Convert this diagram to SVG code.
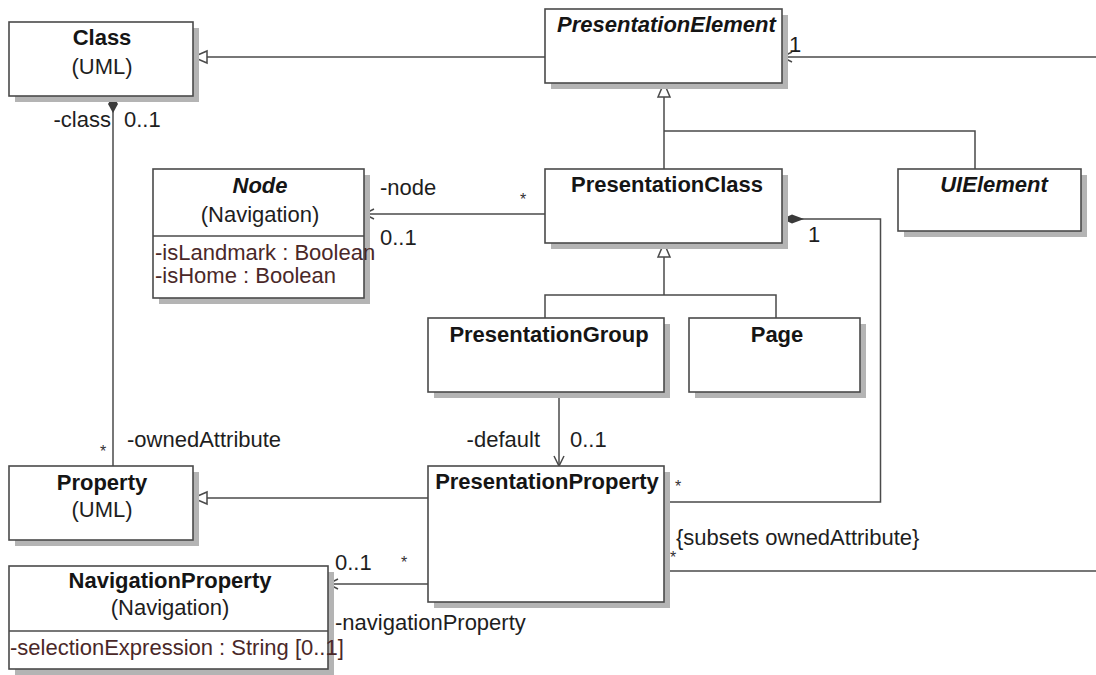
<svg xmlns="http://www.w3.org/2000/svg" width="1096" height="675" viewBox="0 0 1096 675">
<style>
.box{fill:#fff;stroke:#4a4a4a;stroke-width:1.6}
.shadow{fill:#b4b4b4}
.sep{stroke:#4a4a4a;stroke-width:1.4}
.t{font-family:"Liberation Sans",Arial,sans-serif;font-size:22px;fill:#1e1e1e}
.b{font-weight:bold;fill:#151515}
.bi{font-weight:bold;font-style:italic;fill:#151515}
.attr{fill:#4a2828}
.star{font-family:"Liberation Sans",Arial,sans-serif;font-size:16px;fill:#333}
.c{fill:none;stroke:#4a4a4a;stroke-width:1.5}
</style>
<defs>
<marker id="gen" markerUnits="userSpaceOnUse" markerWidth="16" markerHeight="14" viewBox="0 0 16 14" refX="15" refY="7" orient="auto" overflow="visible">
<path d="M1,1 L15,7 L1,13 Z" fill="#fff" stroke="#4a4a4a" stroke-width="1.5"/>
</marker>
<marker id="open" markerUnits="userSpaceOnUse" markerWidth="12" markerHeight="12" viewBox="0 0 12 12" refX="11" refY="6" orient="auto" overflow="visible">
<path d="M1,1 L11,6 L1,11" fill="none" stroke="#4a4a4a" stroke-width="1.5"/>
</marker>
<marker id="dia1" markerUnits="userSpaceOnUse" markerWidth="18" markerHeight="12" viewBox="0 0 18 12" refX="0" refY="6" orient="auto" overflow="visible">
<path d="M0,6 L8,1 L17,6 L8,11 Z" fill="#3a3a3a"/>
</marker>
<marker id="dia2" markerUnits="userSpaceOnUse" markerWidth="24" markerHeight="12" viewBox="0 0 24 12" refX="0" refY="6" orient="auto" overflow="visible">
<path d="M0,6 L10,1.5 L22,6 L10,10.5 Z" fill="#3a3a3a"/>
</marker>
</defs>
<rect width="1096" height="675" fill="#fff"/>

<g id="connectors">
<line class="c" x1="545" y1="57" x2="193" y2="57" marker-end="url(#gen)"/>
<line class="c" x1="1096" y1="57" x2="782" y2="57" marker-end="url(#open)"/>
<line class="c" x1="664" y1="169" x2="664" y2="83" marker-end="url(#gen)"/>
<polyline class="c" points="664,131 975,131 975,169"/>
<line class="c" x1="545" y1="214" x2="364" y2="214" marker-end="url(#open)"/>
<line class="c" x1="664" y1="295" x2="664" y2="243" marker-end="url(#gen)"/>
<polyline class="c" points="545,318 545,295 776,295 776,318"/>
<polyline class="c" points="782,219 880.5,219 880.5,502 664,502" marker-start="url(#dia2)"/>
<line class="c" x1="559" y1="392" x2="559" y2="466" marker-end="url(#open)"/>
<line class="c" x1="428" y1="498" x2="193" y2="498" marker-end="url(#gen)"/>
<line class="c" x1="113" y1="96" x2="113" y2="466" marker-start="url(#dia1)"/>
<line class="c" x1="428" y1="584" x2="328" y2="584" marker-end="url(#open)"/>
<line class="c" x1="664" y1="571" x2="1096" y2="571"/>

<text class="t" x="789" y="52">1</text>
<text class="t" x="380" y="195">-node</text>
<text class="star" x="523" y="205" text-anchor="middle">*</text>
<text class="t" x="380" y="245">0..1</text>
<text class="t" x="808" y="242">1</text>
<text class="star" x="678" y="492" text-anchor="middle">*</text>
<text class="t" x="540" y="447" text-anchor="end">-default</text>
<text class="t" x="570" y="447">0..1</text>
<text class="t" x="111" y="127" text-anchor="end">-class</text>
<text class="t" x="124" y="127">0..1</text>
<text class="star" x="103" y="457" text-anchor="middle">*</text>
<text class="t" x="127" y="447">-ownedAttribute</text>
<text class="t" x="335" y="570">0..1</text>
<text class="star" x="404" y="568" text-anchor="middle">*</text>
<text class="t" x="335" y="630">-navigationProperty</text>
<text class="star" x="673" y="563" text-anchor="middle">*</text>
<text class="t" x="676" y="545">{subsets ownedAttribute}</text>
</g>

<g id="Class">
<rect class="shadow" x="15" y="28" width="184" height="74"/>
<rect class="box" x="9" y="22" width="184" height="74"/>
<text class="t b" x="102" y="45" text-anchor="middle">Class</text>
<text class="t" x="102" y="74" text-anchor="middle">(UML)</text>
</g>

<g id="PresentationElement">
<rect class="shadow" x="551" y="15" width="237" height="74"/>
<rect class="box" x="545" y="9" width="237" height="74"/>
<text class="t bi" x="557" y="32">PresentationElement</text>
</g>

<g id="Node">
<rect class="shadow" x="159" y="175" width="211" height="129"/>
<rect class="box" x="153" y="169" width="211" height="129"/>
<line class="sep" x1="153" y1="236" x2="364" y2="236"/>
<text class="t bi" x="260" y="193" text-anchor="middle">Node</text>
<text class="t" x="260" y="222" text-anchor="middle">(Navigation)</text>
<text class="t attr" x="155" y="260">-isLandmark : Boolean</text>
<text class="t attr" x="155" y="283">-isHome : Boolean</text>
</g>

<g id="PresentationClass">
<rect class="shadow" x="551" y="175" width="237" height="74"/>
<rect class="box" x="545" y="169" width="237" height="74"/>
<text class="t b" x="667" y="192" text-anchor="middle">PresentationClass</text>
</g>

<g id="UIElement">
<rect class="shadow" x="904" y="175" width="183" height="62"/>
<rect class="box" x="898" y="169" width="183" height="62"/>
<text class="t bi" x="994" y="192" text-anchor="middle">UIElement</text>
</g>

<g id="PresentationGroup">
<rect class="shadow" x="434" y="324" width="236" height="74"/>
<rect class="box" x="428" y="318" width="236" height="74"/>
<text class="t b" x="549" y="342" text-anchor="middle">PresentationGroup</text>
</g>

<g id="Page">
<rect class="shadow" x="695" y="324" width="171" height="74"/>
<rect class="box" x="689" y="318" width="171" height="74"/>
<text class="t b" x="777" y="342" text-anchor="middle">Page</text>
</g>

<g id="Property">
<rect class="shadow" x="15" y="472" width="184" height="74"/>
<rect class="box" x="9" y="466" width="184" height="74"/>
<text class="t b" x="102" y="490" text-anchor="middle">Property</text>
<text class="t" x="102" y="517" text-anchor="middle">(UML)</text>
</g>

<g id="PresentationProperty">
<rect class="shadow" x="434" y="472" width="236" height="136"/>
<rect class="box" x="428" y="466" width="236" height="136"/>
<text class="t b" x="547" y="489" text-anchor="middle">PresentationProperty</text>
</g>

<g id="NavigationProperty">
<rect class="shadow" x="15" y="572" width="319" height="103"/>
<rect class="box" x="9" y="566" width="319" height="103"/>
<line class="sep" x1="9" y1="631" x2="328" y2="631"/>
<text class="t b" x="170" y="588" text-anchor="middle">NavigationProperty</text>
<text class="t" x="170" y="615" text-anchor="middle">(Navigation)</text>
<text class="t attr" x="10" y="655">-selectionExpression : String [0..1]</text>
</g>
</svg>
